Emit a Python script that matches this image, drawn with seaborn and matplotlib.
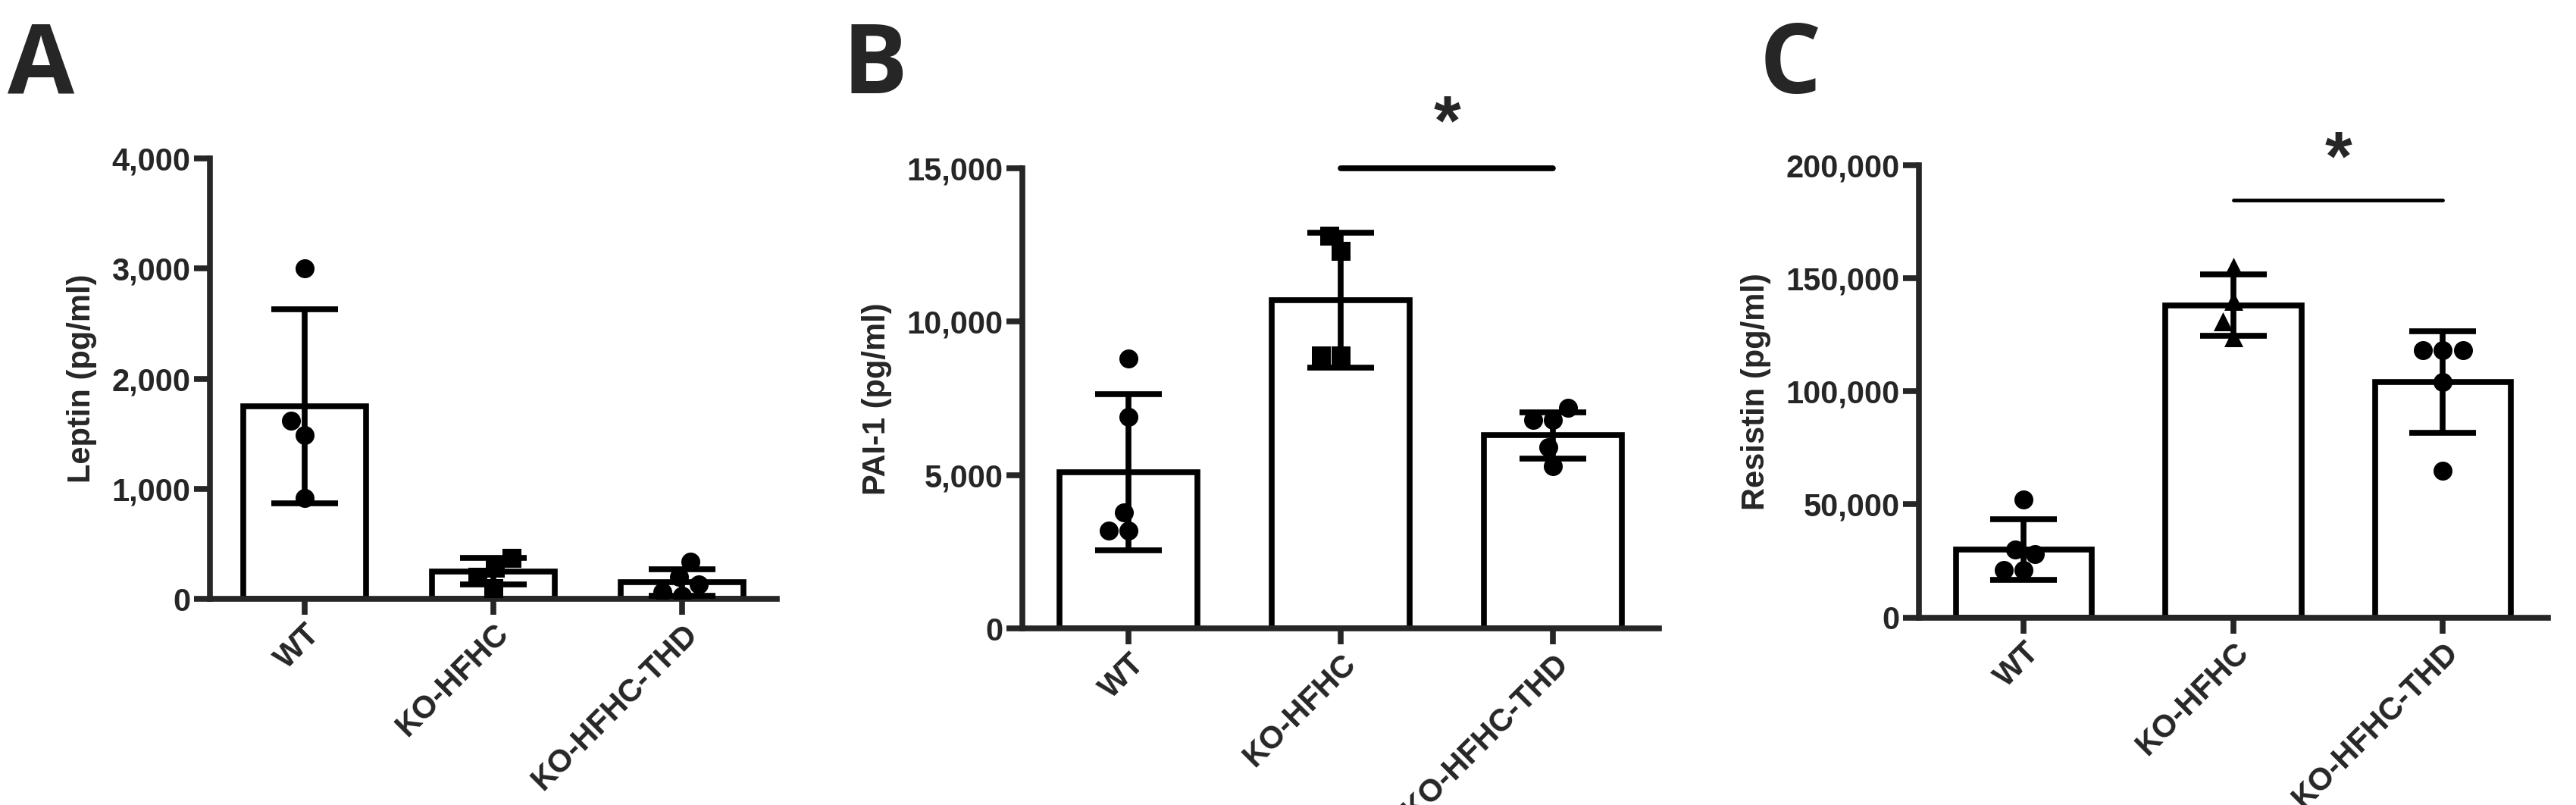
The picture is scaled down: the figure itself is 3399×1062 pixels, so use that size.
import matplotlib
matplotlib.use("Agg")
import matplotlib.pyplot as plt
import matplotlib.ticker as mticker
import numpy as np
import pandas as pd
import seaborn as sns

groups = ["WT", "KO-HFHC", "KO-HFHC-THD"]

# panel A - Leptin
leptin_wt = [3000, 1620, 1490, 920]
leptin_ko = [370, 280, 200, 100]
leptin_thd = [340, 200, 130, 60, 30]
leptin_mean = [1750, 250, 150]
leptin_sd = [880, 120, 120]

# panel B - PAI-1
pai_wt = [8800, 6900, 3800, 3200, 3200]
pai_ko = [12300, 12800, 8900, 8900]
pai_thd = [7200, 6800, 6800, 5900, 5300]
pai_mean = [5100, 10700, 6300]
pai_sd = [2550, 2200, 750]

# panel C - Resistin
res_wt = [52000, 30000, 28000, 21000, 21000]
res_ko = [155000, 140000, 131000, 124000]
res_thd = [118000, 118000, 118000, 104000, 65000]
res_mean = [30000, 138000, 104000]
res_sd = [13500, 13500, 22500]

sns.set_style("ticks")
plt.rcParams["font.family"] = ["Liberation Sans", "DejaVu Sans"]
plt.rcParams["font.weight"] = "bold"

fig = plt.figure(figsize=(33.99, 10.62), dpi=100)
LW = 5.5
FS = 30


def panel(rect, points, means, sds, markers, ylabel, ymax, step, letter, letter_xy):
    ax = fig.add_axes(rect)
    df = pd.DataFrame({"group": groups, "mean": means})
    sns.barplot(data=df, x="group", y="mean", order=groups, fill=False,
                edgecolor="black", linewidth=LW, width=0.65, errorbar=None, ax=ax)
    ax.errorbar(range(3), means, yerr=sds, fmt="none", ecolor="black",
                elinewidth=LW, capsize=32, capthick=LW, zorder=4)
    for g, vals, m in zip(groups, points, markers):
        pts = pd.DataFrame({"group": g, "val": vals})
        sns.swarmplot(data=pts, x="group", y="val", order=groups, marker=m,
                      color="black", size=18, ax=ax, zorder=5, warn_thresh=1)
    ax.set_xlim(-0.5, 2.5)
    ax.set_ylim(0, ymax)
    ax.set_yticks(np.arange(0, ymax + 1, step))
    ax.yaxis.set_major_formatter(mticker.FuncFormatter(lambda v, p: f"{int(v):,}"))
    ax.set_xlabel("")
    ax.set_ylabel(ylabel, fontsize=FS, fontweight="bold", labelpad=14)
    ax.tick_params(axis="both", width=LW, length=15, labelsize=FS)
    plt.setp(ax.get_xticklabels(), rotation=45, ha="right", rotation_mode="anchor",
             fontweight="bold")
    plt.setp(ax.get_yticklabels(), fontweight="bold")
    sns.despine(ax=ax)
    for s in ["left", "bottom"]:
        ax.spines[s].set_linewidth(LW)
    fig.text(letter_xy[0], letter_xy[1], letter, fontsize=92, fontweight="bold",
             family=["Open Sans", "DejaVu Sans"], va="center")
    return ax


axA = panel([0.0815, 0.256, 0.22, 0.547], [leptin_wt, leptin_ko, leptin_thd],
            leptin_mean, leptin_sd, ["o", "s", "o"], "Leptin (pg/ml)", 4000, 1000,
            "A", (0.003, 0.915))
axB = panel([0.397, 0.219, 0.247, 0.572], [pai_wt, pai_ko, pai_thd],
            pai_mean, pai_sd, ["o", "s", "o"], "PAI-1 (pg/ml)", 15000, 5000,
            "B", (0.327, 0.915))
axC = panel([0.745, 0.233, 0.244, 0.562], [res_wt, res_ko, res_thd],
            res_mean, res_sd, ["o", "^", "o"], "Resistin (pg/ml)", 200000, 50000,
            "C", (0.683, 0.915))

# significance bars
axB.plot([1, 2], [15000, 15000], color="black", lw=LW, clip_on=False)
axB.text(1.5, 15300, "*", fontsize=66, ha="center", va="bottom", fontweight="bold")
axC.plot([1, 2], [184500, 184500], color="black", lw=3.5, clip_on=False)
axC.text(1.5, 187000, "*", fontsize=66, ha="center", va="bottom", fontweight="bold")

fig.savefig("out.png", dpi=100, facecolor="white")
